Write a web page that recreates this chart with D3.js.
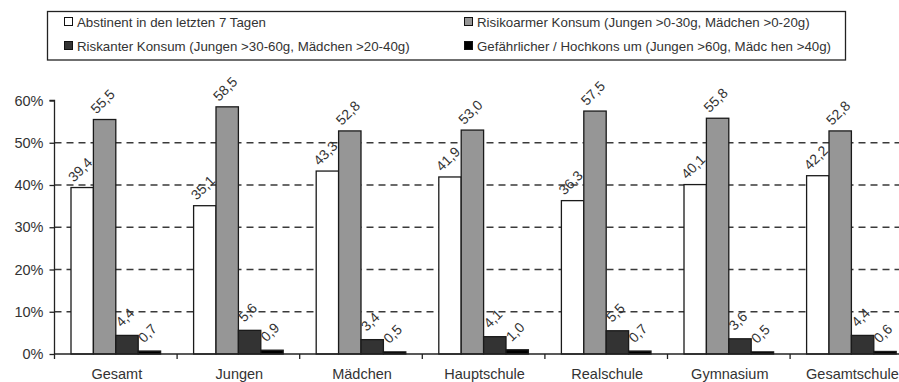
<!DOCTYPE html>
<html>
<head>
<meta charset="utf-8">
<script src="https://cdn.jsdelivr.net/npm/d3@7"></script>
<style>
  html, body { margin: 0; padding: 0; background: #fff; }
  svg { display: block; font-family: "Liberation Sans", Arial, sans-serif; }
</style>
</head>
<body>
<svg id="chart" width="899" height="382"></svg>
<script>
// Gruppen auf der x-Achse
const categories = ["Gesamt", "Jungen", "Mädchen", "Hauptschule", "Realschule", "Gymnasium", "Gesamtschule"];

// Serien (Anteile in %)
const seriesNames = [
  "Abstinent in den letzten 7 Tagen",
  "Risikoarmer Konsum (Jungen >0-30g, Mädchen >0-20g)",
  "Riskanter Konsum (Jungen >30-60g, Mädchen >20-40g)",
  "Gefährlicher / Hochkons um (Jungen >60g, Mädc hen >40g)"
];
const abstinent   = [39.4, 35.1, 43.3, 41.9, 36.3, 40.1, 42.2];
const risikoarm   = [55.5, 58.5, 52.8, 53.0, 57.5, 55.8, 52.8];
const riskant     = [4.4, 5.6, 3.4, 4.1, 5.5, 3.6, 4.4];
const gefaehrlich = [0.7, 0.9, 0.5, 1.0, 0.7, 0.5, 0.6];

const yTicks = [0, 10, 20, 30, 40, 50, 60];
const fills = ["#ffffff", "#969696", "#333333", "#000000"];

const series = [abstinent, risikoarm, riskant, gefaehrlich];

const svg = d3.select("#chart");
const textColor = "#333";

// Dezimalkomma
const de = d3.formatLocale({ decimal: ",", thousands: ".", grouping: [3], currency: ["", " €"] });
const fmt = de.format(".1f");

const x0 = 54.5;
const bandW = 122.6;
const x = d3.scaleBand().domain(categories).range([x0, x0 + bandW * categories.length]).paddingInner(0).paddingOuter(0);
const xInner = d3.scaleBand().domain(d3.range(4)).range([16.5, bandW - 16.5]).padding(0);
const y = d3.scaleLinear().domain([0, 60]).range([354, 100.5]);

// Gitterlinien
svg.append("g")
  .selectAll("line")
  .data(yTicks.filter(t => t > 0 && t < 60))
  .join("line")
  .attr("x1", x0).attr("x2", 899)
  .attr("y1", d => y(d)).attr("y2", d => y(d))
  .attr("stroke", "#3a3a3a").attr("stroke-width", 1.3)
  .attr("stroke-dasharray", "7,5");

// Balken
const groups = svg.append("g")
  .selectAll("g")
  .data(categories)
  .join("g")
  .attr("transform", d => `translate(${x(d)},0)`);

groups.each(function (cat, ci) {
  const g = d3.select(this);
  series.forEach((vals, si) => {
    const v = vals[ci];
    g.append("rect")
      .attr("x", xInner(si))
      .attr("y", y(v))
      .attr("width", xInner.bandwidth())
      .attr("height", y(0) - y(v))
      .attr("fill", fills[si])
      .attr("stroke", "#1a1a1a")
      .attr("stroke-width", 1.3);
  });
  series.forEach((vals, si) => {
    const v = vals[ci];
    const cx = xInner(si) + xInner.bandwidth() / 2 - 2;
    const cy = y(v) - 18;
    g.append("text")
      .attr("transform", `translate(${cx},${cy}) rotate(-45)`)
      .attr("text-anchor", "middle")
      .attr("dy", "0.35em")
      .attr("font-size", 14)
      .attr("fill", textColor)
      .text(fmt(v));
  });
});

// y-Achse
const yAxis = d3.axisLeft(y).tickValues(yTicks).tickSize(5).tickPadding(6).tickFormat(d => d + "%");
const ya = svg.append("g").attr("transform", `translate(${x0},0)`).call(yAxis);
ya.select(".domain").attr("stroke", "#222").attr("stroke-width", 1.3).attr("d", `M-5,${y(60)}H0V${y(0)}`);
ya.selectAll(".tick line").attr("stroke", "#222").attr("stroke-width", 1.3);
ya.selectAll(".tick text").attr("font-size", 14.5).attr("fill", textColor).attr("font-family", "Liberation Sans, Arial, sans-serif");

// x-Achse
const xa = svg.append("g");
xa.append("line")
  .attr("x1", x0).attr("x2", 899).attr("y1", y(0)).attr("y2", y(0))
  .attr("stroke", "#222").attr("stroke-width", 1.3);
xa.selectAll("line.tick")
  .data(d3.range(categories.length + 1))
  .join("line")
  .attr("class", "tick")
  .attr("x1", i => x0 + i * bandW).attr("x2", i => x0 + i * bandW)
  .attr("y1", y(0)).attr("y2", y(0) + 5)
  .attr("stroke", "#222").attr("stroke-width", 1.3);
xa.selectAll("text")
  .data(categories)
  .join("text")
  .attr("x", d => x(d) + bandW / 2 + 1)
  .attr("y", 378.5)
  .attr("text-anchor", "middle")
  .attr("font-size", 14.5)
  .attr("fill", textColor)
  .text(d => d);

// Legende
const legend = svg.append("g");
legend.append("rect")
  .attr("x", 47.5).attr("y", 11.5).attr("width", 798).attr("height", 48.5)
  .attr("fill", "#fff").attr("stroke", "#222").attr("stroke-width", 1.3);
const legPos = [
  { x: 64, y: 22 }, { x: 464, y: 22 },
  { x: 64, y: 46 }, { x: 464, y: 46 }
];
seriesNames.forEach((name, i) => {
  const p = legPos[i];
  legend.append("rect")
    .attr("x", p.x + 0.5).attr("y", p.y - 4.5).attr("width", 8).attr("height", 8)
    .attr("fill", fills[i]).attr("stroke", "#111").attr("stroke-width", 1);
  legend.append("text")
    .attr("x", p.x + 13).attr("y", p.y)
    .attr("dy", "0.35em")
    .attr("font-size", 13.3)
    .attr("fill", textColor)
    .text(name);
});
</script>
</body>
</html>
